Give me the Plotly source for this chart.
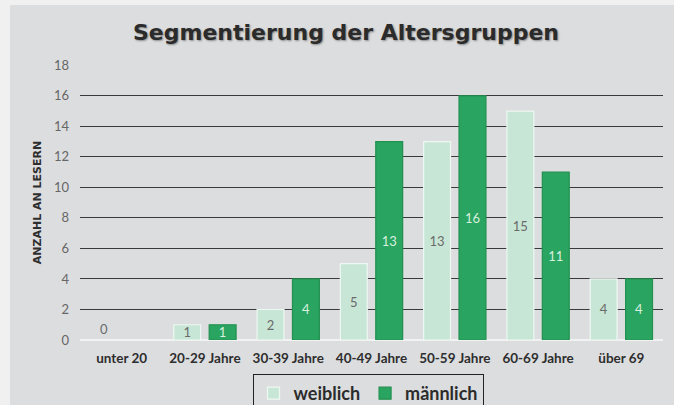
import plotly.graph_objects as go

categories = ["unter 20", "20-29 Jahre", "30-39 Jahre", "40-49 Jahre", "50-59 Jahre", "60-69 Jahre", "über 69"]
weiblich = [0, 1, 2, 5, 13, 15, 4]
maennlich = [None, 1, 4, 13, 16, 11, 4]
y_ticks = [0, 2, 4, 6, 8, 10, 12, 14, 16, 18]

def positions(vals):
    return ["outside" if (v is not None and v == 0) else "inside" for v in vals]

fig = go.Figure()
fig.add_trace(go.Bar(
    name="weiblich", x=categories, y=weiblich,
    text=[("" if v is None else str(v)) for v in weiblich],
    textposition=positions(weiblich), insidetextanchor="middle",
    textangle=0, constraintext="none",
    textfont=dict(family="Lato", size=13, color="#6a6a6a"),
    outsidetextfont=dict(family="Lato", size=13, color="#6a6a6a"),
    marker=dict(color="#c8e6d5", line=dict(color="#eef8f2", width=1.2)),
    cliponaxis=False,
))
fig.add_trace(go.Bar(
    name="männlich", x=categories, y=maennlich,
    text=[("" if v is None else str(v)) for v in maennlich],
    textposition=positions(maennlich), insidetextanchor="middle",
    textangle=0, constraintext="none",
    textfont=dict(family="Lato", size=13, color="#d8f0df"),
    marker=dict(color="#2aa461", line=dict(color="#22904f", width=1.2)),
    cliponaxis=False,
))

W, H = 674, 405
L, R, T, B = 80, 11, 65, 65
pw, ph = W - L - R, H - T - B

def px_x(p):
    return (p - L) / pw

def px_y(p):
    return (H - B - p) / ph

fig.update_layout(
    width=W, height=H,
    margin=dict(l=L, r=R, t=T, b=B, autoexpand=False),
    paper_bgcolor="#dcdddf",
    plot_bgcolor="rgba(0,0,0,0)",
    barmode="group", bargap=0.15, bargroupgap=0.24,
    title=dict(
        text="Segmentierung der Altersgruppen",
        x=(346) / W, xanchor="center", y=1 - 32 / H, yanchor="middle",
        font=dict(family="DejaVu Sans", size=22, color="#2b2b2b", weight="bold",
                  shadow="1px 1px 2px #8a8a8a"),
    ),
    xaxis=dict(
        showgrid=False, zeroline=False, showline=False, ticks="",
        tickfont=dict(family="Lato", size=13.5, color="#2e2e2e", weight="bold"),
        ticklabelstandoff=8,
    ),
    yaxis=dict(
        range=[0, 18.02], tickvals=y_ticks, ticks="",
        showgrid=True, gridcolor="#3a3a3a", gridwidth=1,
        zeroline=True, zerolinecolor="#f2f2f2", zerolinewidth=1.5,
        tickfont=dict(family="Lato", size=13, color="#666666"),
        ticklabelstandoff=10,
        title=dict(text="ANZAHL AN LESERN", standoff=10,
                   font=dict(family="DejaVu Sans", size=11, color="#2e2e2e", weight="bold")),
    ),
    legend=dict(
        orientation="h", x=px_x(368), xanchor="center", y=px_y(374), yanchor="top",
        bgcolor="rgba(0,0,0,0)", bordercolor="#222222", borderwidth=1,
        font=dict(family="Lato", size=18, color="#2b2b2b", weight="bold"),
        itemwidth=30, traceorder="normal",
    ),
    showlegend=True,
    shapes=[
        dict(type="rect", xref="paper", yref="paper", layer="below",
             x0=px_x(0), x1=px_x(10), y0=px_y(405), y1=px_y(0),
             fillcolor="#f0f0f1", line=dict(width=0)),
        dict(type="rect", xref="paper", yref="paper", layer="below",
             x0=px_x(0), x1=px_x(674), y0=px_y(5), y1=px_y(0),
             fillcolor="#f0f0f1", line=dict(width=0)),
    ],
)

fig.write_html(
    "out.html",
    config={"displayModeBar": False},
    post_script="document.body.style.margin='0';document.body.style.overflow='hidden';document.body.style.background='#f0f0f1';",
)
